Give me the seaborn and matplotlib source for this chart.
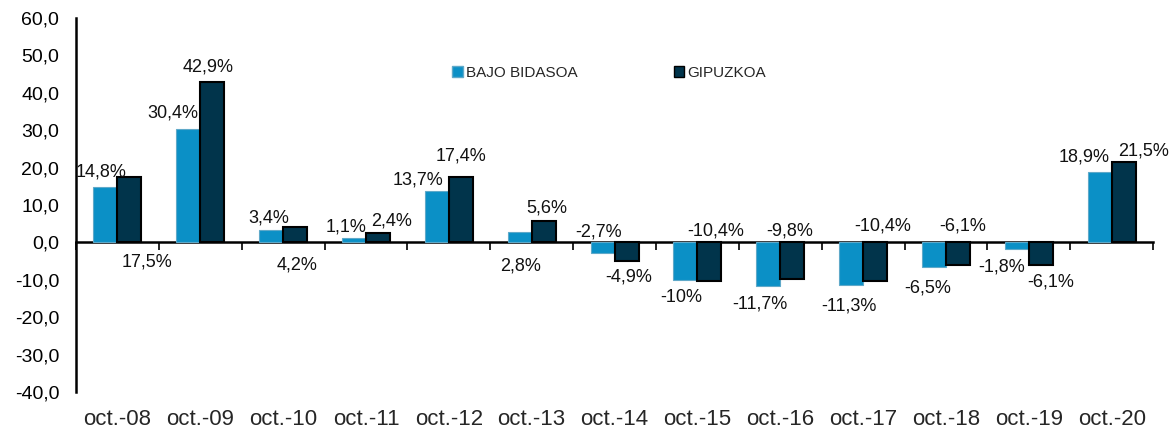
import matplotlib.pyplot as plt
import pandas as pd
import seaborn as sns
from matplotlib.patches import Patch

# datos: variación interanual (%) octubre
periodos = ["oct.-08", "oct.-09", "oct.-10", "oct.-11", "oct.-12", "oct.-13", "oct.-14",
            "oct.-15", "oct.-16", "oct.-17", "oct.-18", "oct.-19", "oct.-20"]
bajo_bidasoa = [14.8, 30.4, 3.4, 1.1, 13.7, 2.8, -2.7, -10.0, -11.7, -11.3, -6.5, -1.8, 18.9]
gipuzkoa = [17.5, 42.9, 4.2, 2.4, 17.4, 5.6, -4.9, -10.4, -9.8, -10.4, -6.1, -6.1, 21.5]
y_ticks = [-40, -30, -20, -10, 0, 10, 20, 30, 40, 50, 60]

# desplazamiento de las etiquetas (px) respecto al extremo de cada barra, como en el original
off_bajo = [(-4, 15), (-15, 16), (-2, 12), (-8, 11), (-19, 11), (1, -34), (-4, 21),
            (-4, -18), (-8, -18), (-2, -21), (-6, -21), (-15, -18), (-16, 15)]
off_gipuzkoa = [(18, -85), (-4, 15), (2, -38), (14, 12), (0, 21), (3, 13), (2, -16),
                (6, 50), (-3, 48), (8, 55), (5, 39), (10, -17), (20, 11)]

c_bajo = "#0b90c6"
c_gipu = "#01344b"


def etiqueta(v):
    if float(v).is_integer():
        return f"{int(v)}%"
    return f"{v:.1f}".replace(".", ",") + "%"


df = pd.DataFrame({"periodo": periodos, "BAJO BIDASOA": bajo_bidasoa, "GIPUZKOA": gipuzkoa})
df = df.melt(id_vars="periodo", var_name="zona", value_name="valor")

sns.set_style("white")
plt.rcParams['font.family'] = ['Liberation Sans', 'DejaVu Sans']

fig = plt.figure(figsize=(11.74, 4.32), dpi=100)
ax = fig.add_axes([0.0647, 0.0926, 0.9175, 0.8657])
sns.barplot(data=df, x="periodo", y="valor", hue="zona", palette=[c_bajo, c_gipu],
            saturation=1, width=0.58, gap=0, errorbar=None, legend=False, ax=ax)

for bar in ax.containers[0]:
    bar.set_edgecolor("#5fa9c9")
    bar.set_linewidth(0.8)
for bar in ax.containers[1]:
    bar.set_edgecolor("black")
    bar.set_linewidth(1.5)

for cont, vals, offs in [(ax.containers[0], bajo_bidasoa, off_bajo),
                         (ax.containers[1], gipuzkoa, off_gipuzkoa)]:
    for bar, v, (dx, dy) in zip(cont, vals, offs):
        ax.annotate(etiqueta(v), (bar.get_x() + bar.get_width() / 2, v),
                    xytext=(dx, dy), textcoords="offset pixels",
                    ha="center", va="center", fontsize=13, color="#111111")

ax.set_ylim(-40, 60)
ax.set_xlim(-0.5, len(periodos) - 0.5)
ax.set_yticks(y_ticks)
ax.set_yticklabels([f"{t:.1f}".replace(".", ",") for t in y_ticks])
ax.tick_params(axis="y", direction="out", length=4, width=1.2, labelsize=14, colors="black", pad=8)
ax.tick_params(axis="x", length=0, labelsize=16, pad=12)
ax.set_xlabel("")
ax.set_ylabel("")
for s in ["top", "right", "bottom"]:
    ax.spines[s].set_visible(False)
ax.spines["left"].set_color("black")
ax.spines["left"].set_linewidth(1.8)

# línea del cero con marcas entre categorías
sec = ax.secondary_xaxis(0.4)
sec.set_xticks([i - 0.5 for i in range(len(periodos) + 1)])
sec.set_xticklabels([])
sec.tick_params(direction="out", length=6, width=1.2, colors="black")
sec.spines["bottom"].set_linewidth(1.8)
sec.spines["bottom"].set_color("black")

handles = [Patch(facecolor=c_bajo, edgecolor="#5fa9c9", label="BAJO BIDASOA"),
           Patch(facecolor=c_gipu, edgecolor="black", label="GIPUZKOA")]
ax.legend(handles=handles, loc="center left", bbox_to_anchor=(0.385, 0.831),
          bbox_transform=fig.transFigure, ncol=2, frameon=False, fontsize=11,
          handlelength=0.7, handleheight=0.7, handletextpad=0.2, columnspacing=6.3,
          borderpad=0, borderaxespad=0)

fig.savefig("out.png", dpi=100)
